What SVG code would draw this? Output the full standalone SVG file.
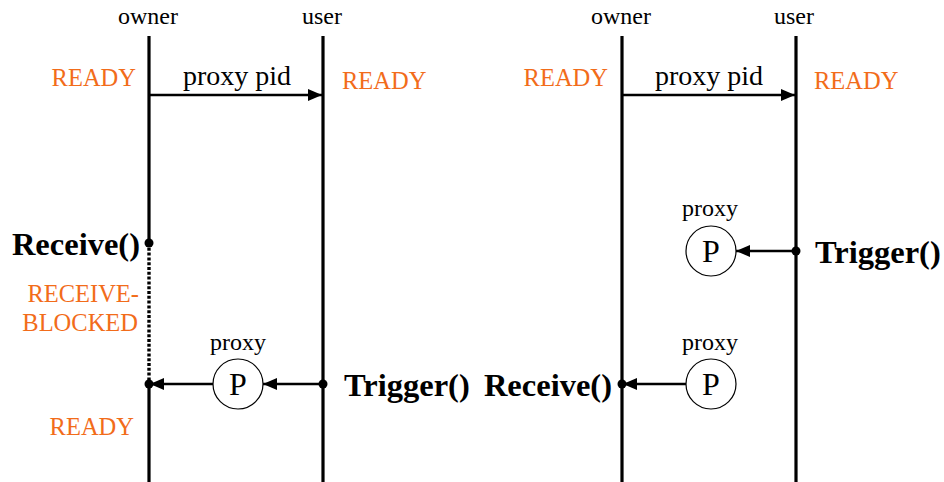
<svg xmlns="http://www.w3.org/2000/svg" width="944" height="482" viewBox="0 0 944 482">
  <style>
    text { font-family: "Liberation Serif", "Times New Roman", serif; }
    .name { font-size: 24px; fill: #000; text-anchor: middle; }
    .state { font-size: 24.5px; fill: #f26c1a; }
    .msg { font-size: 28px; fill: #000; text-anchor: middle; }
    .call { font-size: 32.5px; font-weight: bold; fill: #000; }
    .plabel { font-size: 24px; fill: #000; text-anchor: middle; }
    .pchar { font-size: 32px; fill: #000; text-anchor: middle; }
    .life { stroke: #000; stroke-width: 3.2; fill: none; }
    .wire { stroke: #000; stroke-width: 2.4; fill: none; marker-end: url(#head); }
    .blocked { stroke: #000; stroke-width: 3.4; stroke-dasharray: 3 1.8; fill: none; }
    .proxy { fill: #fff; stroke: #000; stroke-width: 1.2; }
  </style>
  <defs>
    <marker id="head" viewBox="0 0 14 12" refX="14" refY="6" markerWidth="14" markerHeight="12" markerUnits="userSpaceOnUse" orient="auto">
      <path d="M0,0 L14,6 L0,12 z" fill="#000"/>
    </marker>
  </defs>
  <rect width="944" height="482" fill="#fff"/>

  <!-- left scenario: owner receives first -->
  <g id="left-owner">
    <text class="name" x="148" y="24">owner</text>
    <line class="life" x1="149" y1="36" x2="149" y2="243"/>
    <line class="life" x1="149" y1="385" x2="149" y2="482"/>
    <text class="state" x="136" y="86" text-anchor="end">READY</text>
    <text class="call" x="140" y="255" text-anchor="end">Receive()</text>
    <text class="state" x="139" y="302" text-anchor="end">RECEIVE-</text>
    <text class="state" x="138" y="331" text-anchor="end">BLOCKED</text>
    <text class="state" x="134" y="435" text-anchor="end">READY</text>
  </g>
  <g id="left-user">
    <text class="name" x="322" y="24">user</text>
    <line class="life" x1="323" y1="36" x2="323" y2="482"/>
    <text class="state" x="342" y="89">READY</text>
    <text class="call" x="344" y="396">Trigger()</text>
  </g>
  <g id="left-proxy">
    <text class="plabel" x="238" y="350">proxy</text>
    <circle class="proxy" cx="238" cy="384" r="25"/>
    <text class="pchar" x="238" y="395">P</text>
  </g>

  <!-- right scenario: user triggers first -->
  <g id="right-owner">
    <text class="name" x="621" y="24">owner</text>
    <line class="life" x1="622" y1="36" x2="622" y2="482"/>
    <text class="state" x="608" y="86" text-anchor="end">READY</text>
    <text class="call" x="612" y="396" text-anchor="end">Receive()</text>
  </g>
  <g id="right-user">
    <text class="name" x="794" y="24">user</text>
    <line class="life" x1="796" y1="36" x2="796" y2="482"/>
    <text class="state" x="814" y="89">READY</text>
    <text class="call" x="815" y="263">Trigger()</text>
  </g>
  <g id="right-proxy-pending">
    <text class="plabel" x="710" y="216">proxy</text>
    <circle class="proxy" cx="711" cy="251" r="25"/>
    <text class="pchar" x="711" y="262">P</text>
  </g>
  <g id="right-proxy-delivered">
    <text class="plabel" x="710" y="350">proxy</text>
    <circle class="proxy" cx="711" cy="384" r="25"/>
    <text class="pchar" x="711" y="395">P</text>
  </g>

  <g id="connectors">
    <!-- left -->
    <line class="wire" x1="149" y1="95" x2="322" y2="95"/>
    <text class="msg" x="237" y="85">proxy pid</text>
    <line class="blocked" x1="149" y1="243" x2="149" y2="385"/>
    <circle cx="149" cy="243" r="4.5" fill="#000"/>
    <line class="wire" x1="323" y1="384" x2="263" y2="384"/>
    <circle cx="323" cy="384" r="4.5" fill="#000"/>
    <line class="wire" x1="213" y1="384" x2="150" y2="384"/>
    <circle cx="149" cy="384" r="4.5" fill="#000"/>
    <!-- right -->
    <line class="wire" x1="622" y1="95" x2="795" y2="95"/>
    <text class="msg" x="709" y="85">proxy pid</text>
    <line class="wire" x1="796" y1="251" x2="736" y2="251"/>
    <circle cx="796" cy="251" r="4.5" fill="#000"/>
    <line class="wire" x1="686" y1="384" x2="623" y2="384"/>
    <circle cx="622" cy="384" r="4.5" fill="#000"/>
  </g>
</svg>
